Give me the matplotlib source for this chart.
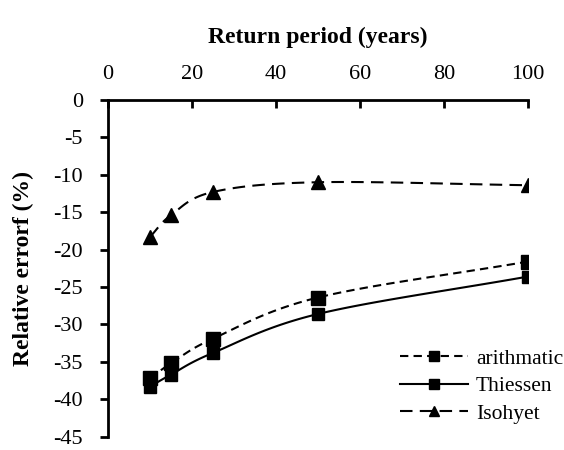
import numpy as np
import matplotlib
matplotlib.use("Agg")
import matplotlib.pyplot as plt

return_period = [10, 15, 25, 50, 100]
arithmatic = [-37.2, -35.2, -31.9, -26.4, -21.6]
thiessen = [-38.3, -36.7, -33.8, -28.6, -23.6]
isohyet = [-18.3, -15.4, -12.3, -11.0, -11.4]

x_ticks = [0, 20, 40, 60, 80, 100]
y_ticks = [0, -5, -10, -15, -20, -25, -30, -35, -40, -45]

plt.rcParams['font.family'] = ['Liberation Serif', 'DejaVu Serif']


def smooth(x, y, n=30):
    x = np.asarray(x, float)
    y = np.asarray(y, float)
    px = np.concatenate([[2 * x[0] - x[1]], x, [2 * x[-1] - x[-2]]])
    py = np.concatenate([[2 * y[0] - y[1]], y, [2 * y[-1] - y[-2]]])
    xs, ys = [], []
    for i in range(1, len(px) - 2):
        t = np.linspace(0, 1, n, endpoint=(i == len(px) - 3))
        p0x, p1x, p2x, p3x = px[i - 1:i + 3]
        p0y, p1y, p2y, p3y = py[i - 1:i + 3]
        c1x = p1x + (p2x - p0x) / 6
        c1y = p1y + (p2y - p0y) / 6
        c2x = p2x - (p3x - p1x) / 6
        c2y = p2y - (p3y - p1y) / 6
        bx = (1 - t) ** 3 * p1x + 3 * (1 - t) ** 2 * t * c1x + 3 * (1 - t) * t ** 2 * c2x + t ** 3 * p2x
        by = (1 - t) ** 3 * p1y + 3 * (1 - t) ** 2 * t * c1y + 3 * (1 - t) * t ** 2 * c2y + t ** 3 * p2y
        xs.append(bx)
        ys.append(by)
    return np.concatenate(xs), np.concatenate(ys)


fig = plt.figure(figsize=(5.64, 4.5), dpi=100)
ax = fig.add_axes([0.1915, 0.0295, 0.7447, 0.7485])

series = [
    ("arithmatic", arithmatic, (0, (4, 2.5)), 's', 10),
    ("Thiessen", thiessen, '-', 's', 8),
    ("Isohyet", isohyet, (0, (6, 3.5)), '^', 10),
]

for name, vals, ls, mk, ms in series:
    sx, sy = smooth(return_period, vals)
    ax.plot(sx, sy, color='black', lw=1.5, linestyle=ls)
    ax.plot(return_period, vals, linestyle='none', marker=mk, markersize=ms, color='black')
    ax.plot([], [], color='black', lw=1.5, linestyle=ls, marker=mk, markersize=7.5, label=name)

ax.set_xlim(0, 100)
ax.set_ylim(-45, 0)
ax.set_xticks(x_ticks)
ax.set_yticks(y_ticks)
ax.set_yticklabels([str(v) for v in y_ticks])

ax.xaxis.tick_top()
ax.xaxis.set_label_position('top')
ax.spines['bottom'].set_visible(False)
ax.spines['right'].set_visible(False)
ax.spines['top'].set_linewidth(2)
ax.spines['left'].set_linewidth(2)
ax.tick_params(axis='x', direction='in', length=6, width=2, labelsize=16, pad=11.5)
ax.tick_params(axis='y', direction='out', length=6, width=2, labelsize=16, pad=12)

ax.set_xlabel('Return period (years)', fontsize=17, fontweight='bold', labelpad=16)
ax.set_ylabel('Relative errorf (%)', fontsize=17, fontweight='bold', labelpad=14)

leg = ax.legend(loc='center left', frameon=False, fontsize=15.5, handlelength=3.16,
                handletextpad=0.37, labelspacing=0.35, borderpad=0, borderaxespad=0,
                bbox_to_anchor=(0.695, 0.15))

fig.savefig('out.png', dpi=100)
